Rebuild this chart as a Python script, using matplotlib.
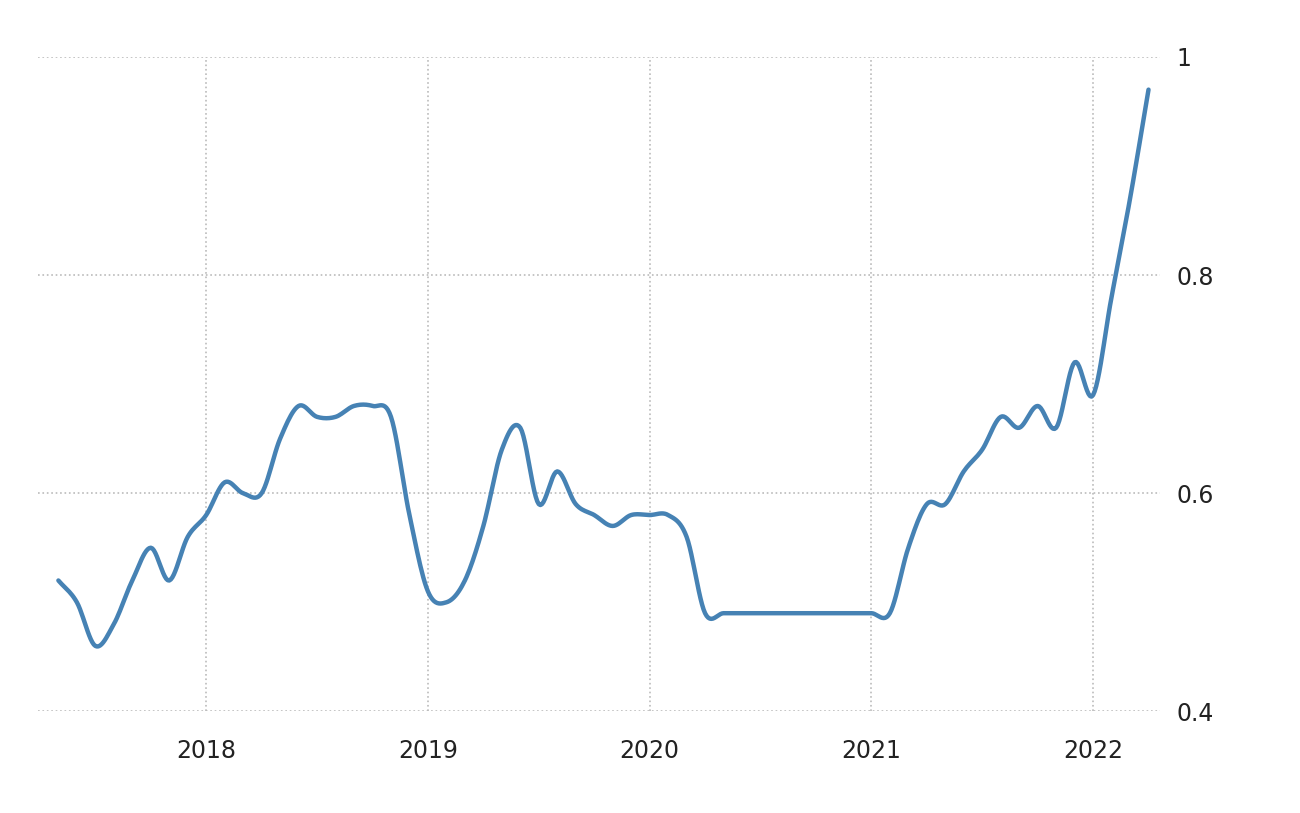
import numpy as np
import matplotlib
matplotlib.use("Agg")
import matplotlib.pyplot as plt

start_year, start_month = 2017, 5
values = [0.52,0.50,0.46,0.48,0.52,0.55,0.52,0.56,
          0.58,0.61,0.60,0.60,0.65,0.68,0.67,0.67,0.68,0.68,0.67,0.58,
          0.51,0.50,0.52,0.57,0.64,0.66,0.59,0.62,0.59,0.58,0.57,0.58,
          0.58,0.58,0.56,0.49,0.49,0.49,0.49,0.49,0.49,0.49,0.49,0.49,
          0.49,0.49,0.55,0.59,0.59,0.62,0.64,0.67,0.66,0.68,0.66,0.72,
          0.69,0.78,0.87,0.97]
xticks = [2018, 2019, 2020, 2021, 2022]
yticks = [0.4, 0.6, 0.8, 1.0]
ylabels = ["0.4", "0.6", "0.8", "1"]

t = np.array([start_year + (start_month - 1 + i) / 12 for i in range(len(values))])
v = np.array(values)

def catmull(x, y, n=12):
    xp = np.concatenate([[2*x[0]-x[1]], x, [2*x[-1]-x[-2]]])
    yp = np.concatenate([[2*y[0]-y[1]], y, [2*y[-1]-y[-2]]])
    xs, ys = [], []
    s = np.linspace(0, 1, n, endpoint=False)
    for i in range(1, len(xp)-2):
        for arr, out in ((xp, xs), (yp, ys)):
            p0, p1, p2, p3 = arr[i-1], arr[i], arr[i+1], arr[i+2]
            out.extend(0.5*((2*p1) + (-p0+p2)*s + (2*p0-5*p1+4*p2-p3)*s**2 + (-p0+3*p1-3*p2+p3)*s**3))
    xs.append(x[-1]); ys.append(y[-1])
    return np.array(xs), np.array(ys)

xs, ys = catmull(t, v)

fig = plt.figure(figsize=(13, 8.13), dpi=100)
ax = fig.add_axes([0.029, 0.125, 0.863, 0.805])
ax.plot(xs, ys, color="#4682b4", lw=3.2, solid_capstyle="round")
ax.set_xlim(2017.24, 2022.3)
ax.set_ylim(0.4, 1.0)
ax.set_xticks(xticks)
ax.set_xticklabels([str(x) for x in xticks])
ax.set_yticks(yticks)
ax.set_yticklabels(ylabels)
ax.yaxis.tick_right()
ax.grid(True, linestyle=":", color="#bbbbbb", lw=1.2)
for s in ax.spines.values():
    s.set_visible(False)
ax.tick_params(length=0, labelsize=17, colors="#222222")
ax.tick_params(axis="x", pad=20)
ax.tick_params(axis="y", pad=12)
fig.savefig("out.png")
